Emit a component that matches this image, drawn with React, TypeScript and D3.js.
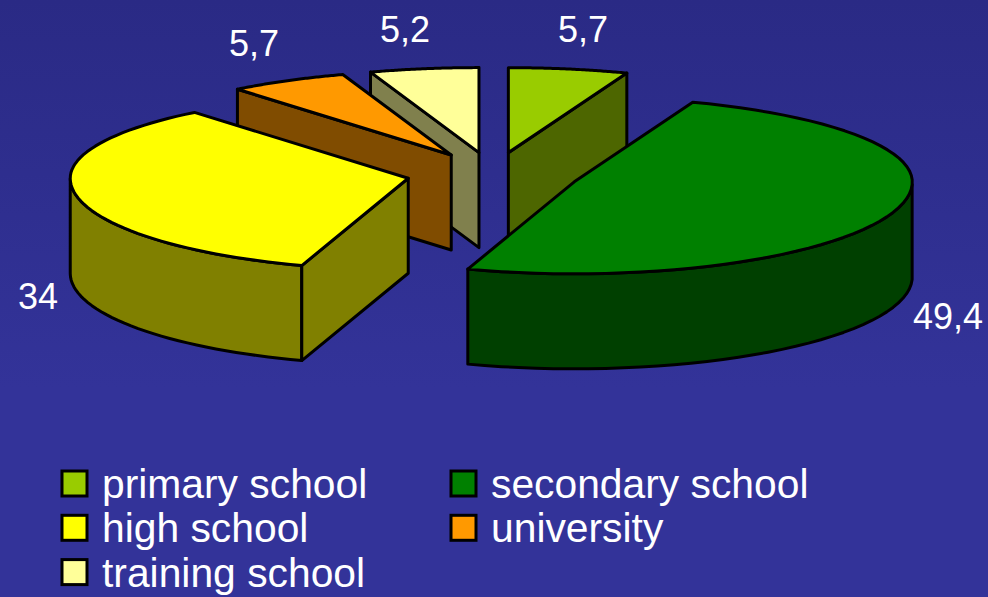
import * as d3 from "d3";

const categories = ["primary school", "secondary school", "high school", "university", "training school"];
const shares = [5.7, 49.4, 34, 5.7, 5.2];
const shareLabels = ["5,7", "49,4", "34", "5,7", "5,2"];
const topColors = ["#99cc00", "#008000", "#ffff00", "#ff9900", "#ffff99"];
const sideColors = ["#4d6600", "#004000", "#808000", "#804c00", "#80804d"];
// back to front, so nearer slices cover the ones behind
const drawOrder = [0, 4, 3, 2, 1];

const width = 988;
const height = 597;
const cx = 493;
const cy = 174;
const rx = 338;
const depth = 95;
const explode = 0.255;

// label anchors, same order as the slices
const labelX = [558, 913, 18, 229, 380];
const labelY = [42, 329, 309, 56, 42];

const xEllipse = d3.scaleLinear().domain([-1, 1]).range([-rx, rx]);
// the near half of the pie is drawn a little deeper than the far half
const yEllipse = d3.scaleLinear().domain([-1, 0, 1]).range([-85, 0, 92]);

const legendX = d3.scaleOrdinal<number, number>().domain([0, 1]).range([62, 451]);
const legendY = d3.scaleLinear().domain([0, 1]).range([471, 515.3]);

const line = d3.line();

function App() {
  const arcs = d3.pie<number>().sort(null)(shares);

  const slices = arcs.map((a) => {
    const mid = (a.startAngle + a.endAngle) / 2;
    const ax = cx + explode * xEllipse(Math.sin(mid));
    const ay = cy + explode * yEllipse(-Math.cos(mid));
    const at = (t: number): [number, number] => [
      ax + xEllipse(Math.sin(t)),
      ay + yEllipse(-Math.cos(t)),
    ];
    const down = ([x, y]: [number, number]): [number, number] => [x, y + depth];
    const rim = d3.range(0, 61).map((i) => at(a.startAngle + ((a.endAngle - a.startAngle) * i) / 60));
    const apex: [number, number] = [ax, ay];

    const walls: string[] = [];
    // outer wall: only the part of the rim facing the viewer
    const front = d3
      .range(0, 61)
      .map((i) => a.startAngle + ((a.endAngle - a.startAngle) * i) / 60)
      .filter((t) => Math.cos(t) <= 0);
    if (front.length > 1) {
      const pts = front.map(at);
      walls.push(line([...pts, ...pts.map(down).reverse()])! + "Z");
    }
    // radial walls that face downwards
    if (Math.sin(a.startAngle) < -0.001) {
      const p = at(a.startAngle);
      walls.push(line([apex, p, down(p), down(apex)])! + "Z");
    }
    if (Math.sin(a.endAngle) > 0.001) {
      const p = at(a.endAngle);
      walls.push(line([apex, p, down(p), down(apex)])! + "Z");
    }
    return { walls, top: line([apex, ...rim])! + "Z" };
  });

  return (
    <svg
      width={width}
      height={height}
      style={{ position: "fixed", left: 0, top: 0, display: "block" }}
      fontFamily="'Liberation Sans', Arial, sans-serif"
    >
      <defs>
        <linearGradient id="bg" x1="0" y1="0" x2="0" y2="1">
          <stop offset="0" stopColor="#2a2a85" />
          <stop offset="0.65" stopColor="#333399" />
          <stop offset="1" stopColor="#333399" />
        </linearGradient>
      </defs>
      <rect width={width} height={height} fill="url(#bg)" />

      {drawOrder.map((i) => (
        <g key={categories[i]} stroke="#000" strokeWidth={3} strokeLinejoin="round">
          {slices[i].walls.map((d, k) => (
            <path key={k} d={d} fill={sideColors[i]} />
          ))}
          <path d={slices[i].top} fill={topColors[i]} />
        </g>
      ))}

      {shareLabels.map((t, i) => (
        <text key={i} x={labelX[i]} y={labelY[i]} fontSize={36} fill="#fff">
          {t}
        </text>
      ))}

      {categories.map((c, i) => {
        const x = legendX(i % 2);
        const y = legendY(Math.floor(i / 2));
        return (
          <g key={c}>
            <rect x={x} y={y} width={25} height={25} fill={topColors[i]} stroke="#000" strokeWidth={3} />
            <text x={x + 40} y={y + 27} fontSize={40.8} fill="#fff">
              {c}
            </text>
          </g>
        );
      })}
    </svg>
  );
}

export default App;
